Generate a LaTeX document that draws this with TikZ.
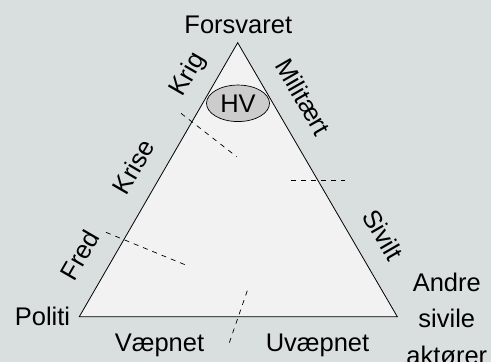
\documentclass[tikz,border=0pt]{standalone}
\usepackage{fontspec}
\setmainfont{Liberation Sans}
\usetikzlibrary{shapes.geometric}
\definecolor{bgcol}{RGB}{217,223,223}
\definecolor{trifill}{RGB}{242,242,242}
\definecolor{hvfill}{RGB}{204,204,204}
\begin{document}
\begin{tikzpicture}[x=1pt,y=-1pt,
  lbl/.style={inner sep=0pt,font=\fontsize{25.5}{36.7}\selectfont},
  edge/.style={draw=black,line width=0.8pt},
  divider/.style={draw=black,line width=0.7pt,dash pattern=on 5pt off 5pt}]
\fill[bgcol] (0,0) rectangle (491,362);
\useasboundingbox (0,0) rectangle (491,362);
\coordinate (top) at (237.7,42.7);
\coordinate (bl) at (79.3,316.7);
\coordinate (br) at (397.3,316.7);
\filldraw[edge,fill=trifill] (top) -- (bl) -- (br) -- cycle;
\node[draw=black,line width=0.7pt,fill=hvfill,ellipse,minimum width=63pt,minimum height=36.5pt,inner sep=0pt,font=\fontsize{25.5}{30}\selectfont] (hv) at (238,103.3) {HV};
% dividers
\coordinate (d1a) at (181,113.3); \coordinate (d1b) at (236.7,156.7);
\coordinate (d2a) at (291,180); \coordinate (d2b) at (345,180);
\coordinate (d3a) at (106,232.3); \coordinate (d3b) at (185.7,265);
\coordinate (d4a) at (247.3,290.7); \coordinate (d4b) at (229.3,342.7);
\draw[divider] (d1a) -- (d1b);
\draw[divider] (d2a) -- (d2b);
\draw[divider] (d3a) -- (d3b);
\draw[divider] (d4a) -- (d4b);
% labels
\node[lbl,anchor=base] (forsvaret) at (238.3,33.3) {Forsvaret};
\node[lbl,anchor=base] (politi) at (42.5,325) {Politi};
\node[lbl,anchor=base] (vaepnet) at (159.5,351.7) {Væpnet};
\node[lbl,anchor=base] (uvaepnet) at (317.5,351.7) {Uvæpnet};
\node[lbl,anchor=base] (andre) at (446.8,291) {Andre};
\node[lbl,anchor=base] (sivile) at (446.8,327.7) {sivile};
\node[lbl,anchor=base] (aktorer) at (446.8,364.4) {aktører};
\node[lbl,rotate=60] (krig) at (188.3,75) {Krig};
\node[lbl,rotate=60] (krise) at (133.3,166.7) {Krise};
\node[lbl,rotate=60] (fred) at (80,255) {Fred};
\node[lbl,rotate=-60] (militaert) at (303.3,96.7) {Militært};
\node[lbl,rotate=-60] (sivilt) at (383.3,235) {Sivilt};
\end{tikzpicture}
\end{document}
